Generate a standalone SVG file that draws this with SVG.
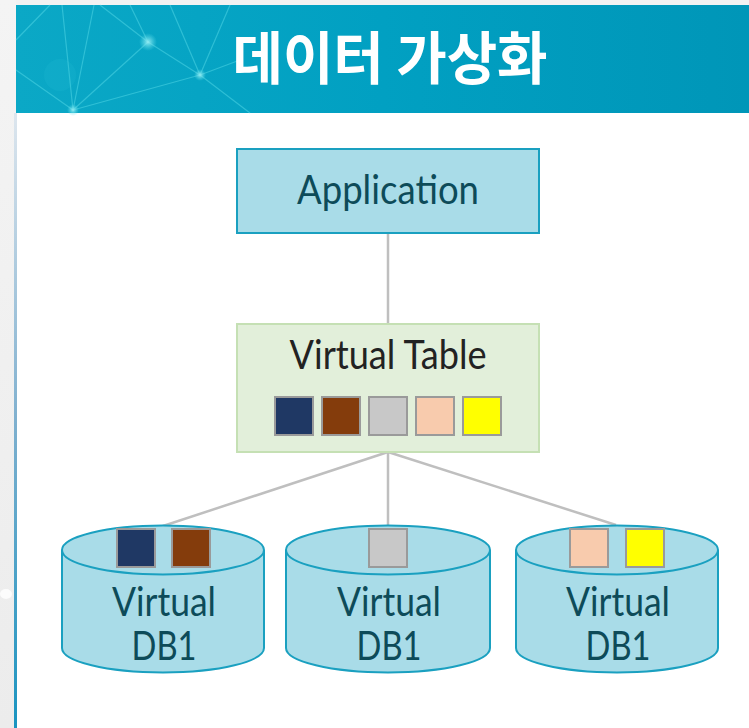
<svg xmlns="http://www.w3.org/2000/svg" width="749" height="728" viewBox="0 0 749 728">
  <defs>
    <linearGradient id="hdr" x1="0" y1="0" x2="1" y2="0">
      <stop offset="0" stop-color="#0ba8c6"/>
      <stop offset="0.5" stop-color="#01a0c2"/>
      <stop offset="1" stop-color="#0096b8"/>
    </linearGradient>
    <linearGradient id="side" x1="0" y1="0" x2="0" y2="1">
      <stop offset="0" stop-color="#dde6ee"/>
      <stop offset="0.5" stop-color="#7fb0cf"/>
      <stop offset="1" stop-color="#1994c0"/>
    </linearGradient>
    <linearGradient id="leftbg" x1="0" y1="0" x2="0" y2="1">
      <stop offset="0" stop-color="#f4f4f4"/>
      <stop offset="1" stop-color="#ececec"/>
    </linearGradient>
    <radialGradient id="glow">
      <stop offset="0" stop-color="#9ff0f5" stop-opacity="0.9"/>
      <stop offset="1" stop-color="#5fe0ec" stop-opacity="0"/>
    </radialGradient>
  </defs>
  <style>
    .box-app { fill: #a9dce8; stroke: #1aa0c0; stroke-width: 2; }
    .box-vt { fill: #e2efda; stroke: #c5e0b4; stroke-width: 2; }
    .cyl { fill: #a9dce8; stroke: #1aa0c0; stroke-width: 2; }
    .sq { stroke: #9a9a9a; stroke-width: 2; }
    .conn { stroke: #bfbfbf; stroke-width: 2.5; fill: none; }
    .net { stroke: #5ee0ec; stroke-width: 1.2; opacity: 0.45; fill: none; }
    .lbl { font-family: Lato, "Open Sans", "Liberation Sans", sans-serif; text-anchor: middle; font-size: 40px; }
    .teal { fill: #0d4b59; }
  </style>

  <!-- background -->
  <rect x="0" y="0" width="749" height="728" fill="#ffffff"/>
  <rect x="0" y="0" width="749" height="5" fill="#f2f2f2"/>
  <rect x="0" y="0" width="16" height="728" fill="url(#leftbg)"/>
  <rect x="14" y="113" width="3" height="615" fill="url(#side)"/>
  <ellipse cx="6" cy="594" rx="6" ry="5" fill="#ffffff" opacity="0.8"/>

  <!-- header -->
  <g id="header">
    <rect x="16" y="5" width="733" height="108" fill="url(#hdr)"/>
    <g class="net">
      <line x1="16" y1="40" x2="50" y2="5"/>
      <line x1="62" y1="5" x2="73" y2="110"/>
      <line x1="94" y1="5" x2="73" y2="110"/>
      <line x1="100" y1="5" x2="148" y2="42"/>
      <line x1="148" y1="42" x2="200" y2="75"/>
      <line x1="148" y1="42" x2="73" y2="110"/>
      <line x1="148" y1="42" x2="130" y2="5"/>
      <line x1="200" y1="75" x2="73" y2="110"/>
      <line x1="200" y1="75" x2="230" y2="5"/>
      <line x1="200" y1="75" x2="170" y2="5"/>
      <line x1="200" y1="75" x2="250" y2="113"/>
      <line x1="16" y1="70" x2="73" y2="110"/>
      <line x1="200" y1="75" x2="240" y2="60"/>
    </g>
    <circle cx="148" cy="42" r="9" fill="url(#glow)"/>
    <circle cx="200" cy="75" r="6" fill="url(#glow)"/>
    <circle cx="73" cy="110" r="6" fill="url(#glow)"/>
    <circle cx="60" cy="75" r="16" fill="#3cd0e0" opacity="0.12"/>
    <text x="390" y="79" font-family="'Noto Sans CJK KR', 'Noto Sans CJK SC', sans-serif" font-weight="bold" font-size="57" fill="#ffffff" text-anchor="middle" textLength="315" lengthAdjust="spacingAndGlyphs">데이터 가상화</text>
  </g>

  <!-- connectors -->
  <g id="connectors" class="conn">
    <line x1="388" y1="233" x2="388" y2="324"/>
    <line x1="388" y1="452" x2="163" y2="526"/>
    <line x1="388" y1="452" x2="388" y2="527"/>
    <line x1="388" y1="452" x2="616" y2="525"/>
  </g>

  <!-- Application -->
  <g id="application">
    <rect class="box-app" x="237" y="149" width="302" height="84"/>
    <text class="lbl teal" x="388" y="204" textLength="182" lengthAdjust="spacingAndGlyphs">Application</text>
  </g>

  <!-- Virtual Table -->
  <g id="virtual-table">
    <rect class="box-vt" x="237" y="324" width="302" height="128"/>
    <text class="lbl" x="388" y="369" fill="#222222" textLength="197" lengthAdjust="spacingAndGlyphs">Virtual Table</text>
    <rect class="sq" x="275" y="397" width="38" height="38" fill="#1f3864"/>
    <rect class="sq" x="322" y="397" width="38" height="38" fill="#843c0c"/>
    <rect class="sq" x="369" y="397" width="38" height="38" fill="#c8c8c8"/>
    <rect class="sq" x="416" y="397" width="38" height="38" fill="#f8cbad"/>
    <rect class="sq" x="463" y="397" width="38" height="38" fill="#ffff00"/>
  </g>

  <!-- DB cylinders -->
  <g id="db-left">
    <path class="cyl" d="M62,550 L62,648 A101,24.5 0 0 0 264,648 L264,550"/>
    <ellipse class="cyl" cx="163" cy="550" rx="101" ry="24.5"/>
    <rect class="sq" x="117" y="529" width="38" height="38" fill="#1f3864"/>
    <rect class="sq" x="172" y="529" width="38" height="38" fill="#843c0c"/>
    <text class="lbl teal" x="164" y="616" textLength="104" lengthAdjust="spacingAndGlyphs">Virtual</text>
    <text class="lbl teal" x="164" y="660" textLength="65" lengthAdjust="spacingAndGlyphs">DB1</text>
  </g>

  <g id="db-middle">
    <path class="cyl" d="M286,550 L286,648 A102,24.5 0 0 0 490,648 L490,550"/>
    <ellipse class="cyl" cx="388" cy="550" rx="102" ry="24.5"/>
    <rect class="sq" x="369" y="529" width="38" height="38" fill="#c8c8c8"/>
    <text class="lbl teal" x="389" y="616" textLength="104" lengthAdjust="spacingAndGlyphs">Virtual</text>
    <text class="lbl teal" x="389" y="660" textLength="65" lengthAdjust="spacingAndGlyphs">DB1</text>
  </g>

  <g id="db-right">
    <path class="cyl" d="M516,550 L516,648 A101,24.5 0 0 0 718,648 L718,550"/>
    <ellipse class="cyl" cx="617" cy="550" rx="101" ry="24.5"/>
    <rect class="sq" x="570" y="529" width="38" height="38" fill="#f8cbad"/>
    <rect class="sq" x="626" y="529" width="38" height="38" fill="#ffff00"/>
    <text class="lbl teal" x="618" y="616" textLength="104" lengthAdjust="spacingAndGlyphs">Virtual</text>
    <text class="lbl teal" x="618" y="660" textLength="65" lengthAdjust="spacingAndGlyphs">DB1</text>
  </g>
</svg>
